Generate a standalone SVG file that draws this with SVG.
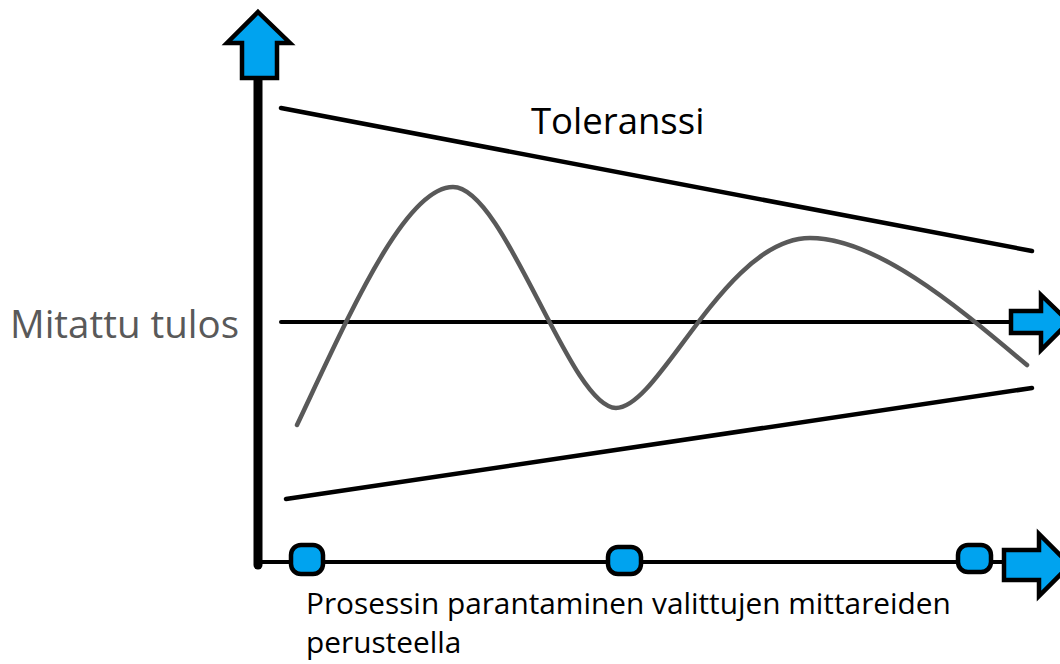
<svg xmlns="http://www.w3.org/2000/svg" width="1060" height="664" viewBox="0 0 1060 664">
<style>
.ln{stroke:#000;fill:none;stroke-linecap:round}
.arr{fill:#00A3EF;stroke:#000;stroke-width:4.5;stroke-linejoin:miter}
.node{fill:#00A3EF;stroke:#000;stroke-width:4.5}
.t{font-family:"Open Sans","Noto Sans",sans-serif}
</style>
<rect width="1060" height="664" fill="#fff"/>
<g id="connectors">
<line class="ln" x1="258" y1="70" x2="258" y2="565" stroke-width="9"/>
<line class="ln" x1="258" y1="562" x2="1006" y2="562" stroke-width="4"/>
<line class="ln" x1="281" y1="322" x2="1012" y2="322" stroke-width="4"/>
<line class="ln" x1="281" y1="108" x2="1032" y2="251" stroke-width="4.5"/>
<line class="ln" x1="286" y1="499" x2="1032" y2="388" stroke-width="4.5"/>
<path d="M297,425 C350,313 405,187 453,187 C505,187 570,408 616,408 C660,408 725,238 810,238 C880,238 967,315 1027,365" fill="none" stroke="#595959" stroke-width="4.5" stroke-linecap="round"/>
</g>
<g id="arrow-up">
<polygon class="arr" points="258,12 290,43 277,43 277,78 242,78 242,43 227,43"/>
</g>
<g id="arrow-mid">
<polygon class="arr" points="1011,311 1041,311 1041,295 1069,322 1041,350 1041,333 1011,333"/>
</g>
<g id="arrow-bottom">
<polygon class="arr" points="1004,550 1039,550 1039,534 1070,565 1039,596 1039,580 1004,580"/>
</g>
<g id="node1"><rect class="node" x="291" y="545" width="32" height="29" rx="10"/></g>
<g id="node2"><rect class="node" x="608" y="547" width="33" height="27" rx="10"/></g>
<g id="node3"><rect class="node" x="958" y="545" width="33" height="27" rx="10"/></g>
<g id="label-tolerance"><text class="t" x="531" y="134" font-size="36.5" fill="#000">Toleranssi</text></g>
<g id="label-y"><text class="t" x="10" y="338" font-size="38.5" fill="#595959">Mitattu tulos</text></g>
<g id="label-x"><text class="t" x="306" y="614" font-size="29.8" fill="#000">Prosessin parantaminen valittujen mittareiden<tspan x="306" y="653">perusteella</tspan></text></g>
</svg>
